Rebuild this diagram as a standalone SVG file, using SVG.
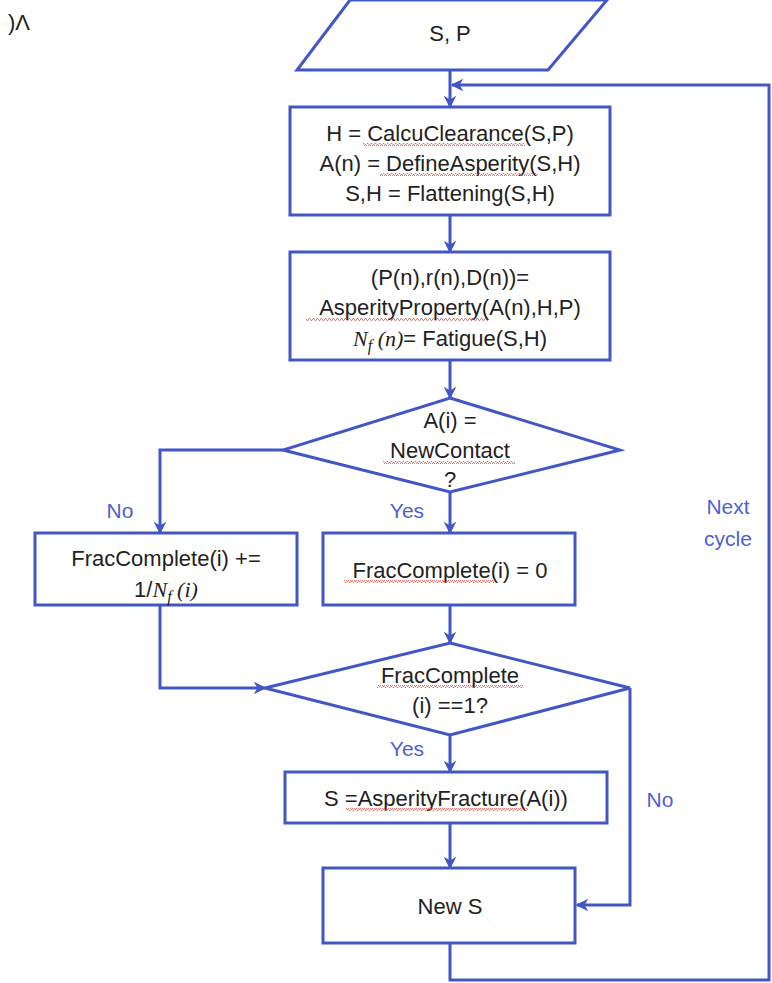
<svg xmlns="http://www.w3.org/2000/svg" width="772" height="983" viewBox="0 0 772 983">
  <defs>
    <marker id="arrow" viewBox="0 0 10 10" refX="9" refY="5" markerWidth="4.2" markerHeight="4.2" orient="auto" markerUnits="strokeWidth">
      <path d="M0,0 L10,5 L0,10 L3,5 z" fill="#4356c6"/>
    </marker>
    <pattern id="squiggle" width="4" height="3" patternUnits="userSpaceOnUse">
      <path d="M0,2.5 L1,0.5 L2,0.5 L3,2.5 L4,2.5" fill="none" stroke="#e0524a" stroke-width="0.8"/>
    </pattern>
    <style>
      .shape { fill: #ffffff; stroke: #4356c6; stroke-width: 3; }
      .link { fill: none; stroke: #4356c6; stroke-width: 3; }
      .t { font-family: "Liberation Sans", "DejaVu Sans", sans-serif; font-size: 22px; fill: #222222; text-anchor: middle; }
      .m { font-family: "Liberation Serif", "DejaVu Serif", serif; font-style: italic; }
      .lbl { font-family: "Liberation Sans", "DejaVu Sans", sans-serif; font-size: 21px; fill: #4d5fd6; text-anchor: middle; }
      .sq { fill: url(#squiggle); }
    </style>
  </defs>

  <rect width="772" height="983" fill="#ffffff"/>

  <!-- clipped caption at the top-left corner -->
  <text x="8" y="30" class="t" style="text-anchor:start">)Λ</text>

  <!-- connectors -->
  <g id="connectors">
    <line class="link" x1="450" y1="70" x2="450" y2="107" marker-end="url(#arrow)"/>
    <line class="link" x1="450" y1="215" x2="450" y2="252" marker-end="url(#arrow)"/>
    <line class="link" x1="450" y1="360" x2="450" y2="398" marker-end="url(#arrow)"/>
    <polyline class="link" points="283,450 160,450 160,533" marker-end="url(#arrow)"/>
    <line class="link" x1="450" y1="492" x2="450" y2="533" marker-end="url(#arrow)"/>
    <line class="link" x1="450" y1="605" x2="450" y2="643" marker-end="url(#arrow)"/>
    <polyline class="link" points="160,605 160,688 265,688" marker-end="url(#arrow)"/>
    <line class="link" x1="450" y1="735" x2="450" y2="772" marker-end="url(#arrow)"/>
    <line class="link" x1="450" y1="823" x2="450" y2="868" marker-end="url(#arrow)"/>
    <polyline class="link" points="630,688 630,905 577,905" marker-end="url(#arrow)"/>
    <polyline class="link" points="450,943 450,980 769,980 769,85 452,85" marker-end="url(#arrow)"/>
    <text class="lbl" x="120" y="518">No</text>
    <text class="lbl" x="407" y="518">Yes</text>
    <text class="lbl" x="407" y="756">Yes</text>
    <text class="lbl" x="660" y="807">No</text>
    <text class="lbl" x="728" y="514">Next</text>
    <text class="lbl" x="728" y="546">cycle</text>
  </g>

  <g id="input">
    <polygon class="shape" points="350,0 607,0 548,70 297,70"/>
    <text class="t" x="450" y="41">S, P</text>
  </g>

  <g id="setup">
    <rect class="shape" x="290" y="107" width="320" height="108"/>
    <text class="t" x="450" y="141">H = CalcuClearance(S,P)</text>
    <text class="t" x="450" y="171">A(n) = DefineAsperity(S,H)</text>
    <text class="t" x="450" y="201">S,H = Flattening(S,H)</text>
    <rect class="sq" x="363" y="143" width="162" height="3"/>
    <rect class="sq" x="380" y="173" width="158" height="3"/>
  </g>

  <g id="properties">
    <rect class="shape" x="290" y="252" width="320" height="108"/>
    <text class="t" x="450" y="285">(P(n),r(n),D(n))=</text>
    <text class="t" x="450" y="315">AsperityProperty(A(n),H,P)</text>
    <text class="t" x="450" y="346"><tspan class="m">N</tspan><tspan class="m" font-size="16" dy="5">f</tspan><tspan class="m" dy="-5"> (n)</tspan>= Fatigue(S,H)</text>
    <rect class="sq" x="306" y="318" width="182" height="3"/>
  </g>

  <g id="new-contact">
    <polygon class="shape" points="450,398 620,450 450,492 283,450"/>
    <text class="t" x="450" y="428">A(i) =</text>
    <text class="t" x="450" y="458">NewContact</text>
    <text class="t" x="450" y="487">?</text>
    <rect class="sq" x="383" y="461" width="132" height="3"/>
  </g>

  <g id="accumulate">
    <rect class="shape" x="35" y="533" width="262" height="72"/>
    <text class="t" x="166" y="566">FracComplete(i) +=</text>
    <text class="t" x="166" y="597">1/<tspan class="m">N</tspan><tspan class="m" font-size="16" dy="5">f</tspan><tspan class="m" dy="-5"> (i)</tspan></text>
  </g>

  <g id="reset">
    <rect class="shape" x="323" y="533" width="252" height="72"/>
    <text class="t" x="450" y="578">FracComplete(i) = 0</text>
    <rect class="sq" x="344" y="580" width="150" height="3"/>
  </g>

  <g id="fracture-check">
    <polygon class="shape" points="450,643 630,688 450,735 265,688"/>
    <text class="t" x="450" y="683">FracComplete</text>
    <text class="t" x="450" y="713">(i) ==1?</text>
    <rect class="sq" x="377" y="685" width="146" height="3"/>
  </g>

  <g id="fracture">
    <rect class="shape" x="285" y="772" width="322" height="51"/>
    <text class="t" x="446" y="806">S =AsperityFracture(A(i))</text>
    <rect class="sq" x="346" y="808" width="182" height="3"/>
  </g>

  <g id="new-s">
    <rect class="shape" x="323" y="868" width="252" height="75"/>
    <text class="t" x="450" y="914">New S</text>
  </g>
</svg>
